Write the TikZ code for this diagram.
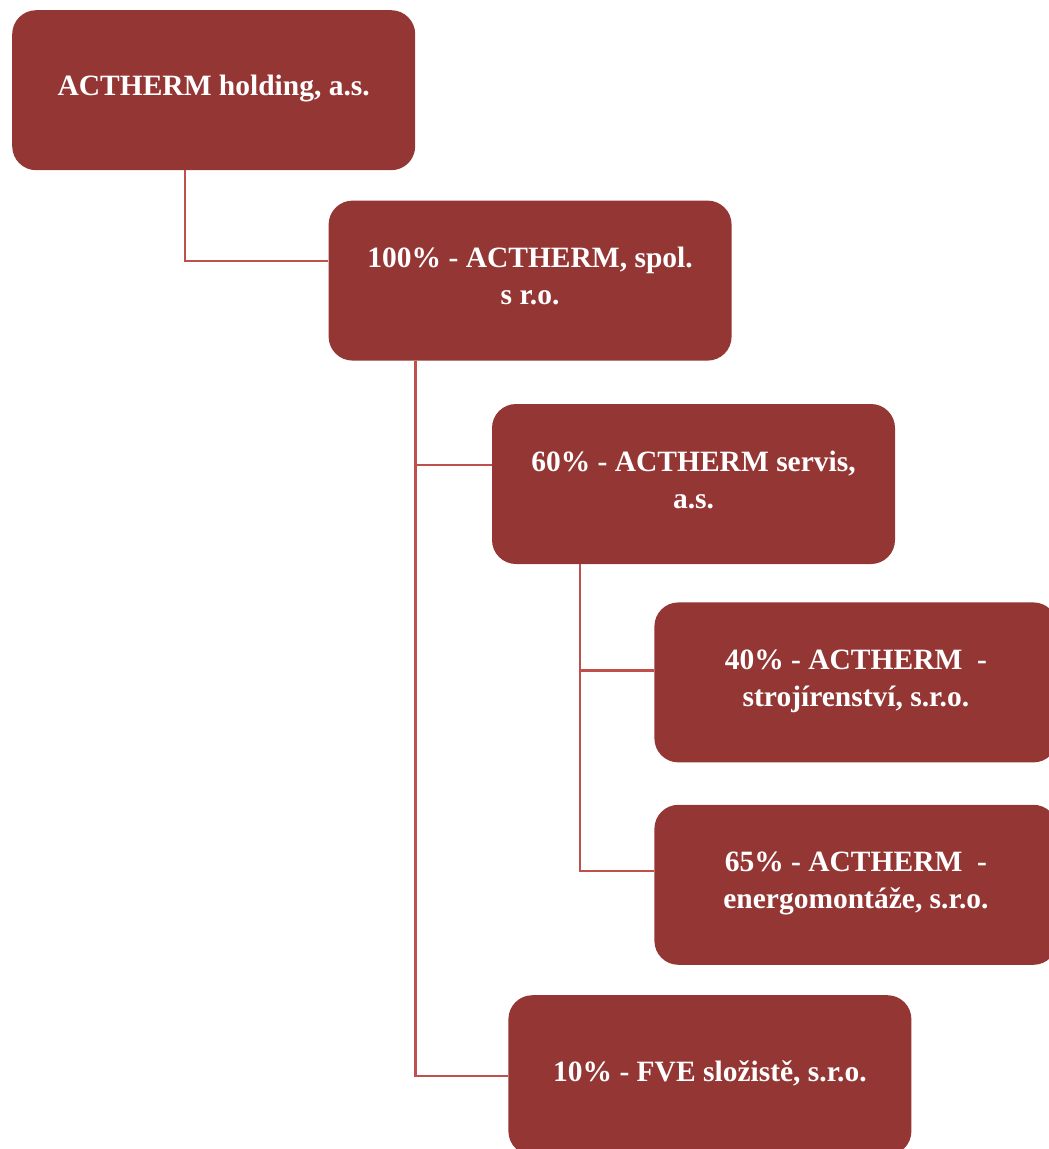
\documentclass[tikz,border=0pt]{standalone}
\usepackage{fontspec}
\setmainfont{Liberation Serif}
\usetikzlibrary{positioning}
\definecolor{firmred}{HTML}{943634}
\definecolor{linkred}{HTML}{C0504D}
\tikzset{
    firm/.style={rectangle, rounded corners=24pt, fill=firmred, text=white,
        minimum width=403pt, minimum height=160pt, inner sep=0pt, align=center,
        text depth=9pt, font=\bfseries\fontsize{29.5}{37}\selectfont},
    link/.style={draw=linkred, line width=2.2pt}
}
\begin{document}
\begin{tikzpicture}
    \useasboundingbox (0,0) rectangle (1049pt,-1149pt);
    \node [firm, anchor=north west] (holding) at (12pt,-10pt) {ACTHERM holding, a.s.};
    \node [firm] (spol) [below right=30pt and -87pt of holding.south east] {100\% - ACTHERM, spol.\\ s r.o.};
    \node [firm] (servis) [below right=43pt and -240pt of spol.south east] {60\% - ACTHERM servis,\\ a.s.};
    \node [firm] (stroj) [below right=38pt and -241pt of servis.south east] {40\% - ACTHERM\ \ -\\ strojírenství, s.r.o.};
    \node [firm] (energo) [below=42pt of stroj] {65\% - ACTHERM\ \ -\\ energomontáže, s.r.o.};
    \node [firm] (fve) [below right=30pt and -146pt of energo.south west] {10\% - FVE složistě, s.r.o.};
    \draw [link] ([xshift=173pt]holding.south west) |- ([yshift=20pt]spol.west);
    \draw [link] ([xshift=87pt]spol.south west) |- ([yshift=19pt]servis.west);
    \draw [link] ([xshift=87pt]spol.south west) |- ([yshift=-1pt]fve.west);
    \draw [link] ([xshift=88pt]servis.south west) |- ([yshift=12pt]stroj.west);
    \draw [link] ([xshift=88pt]servis.south west) |- ([yshift=14pt]energo.west);
\end{tikzpicture}
\end{document}
